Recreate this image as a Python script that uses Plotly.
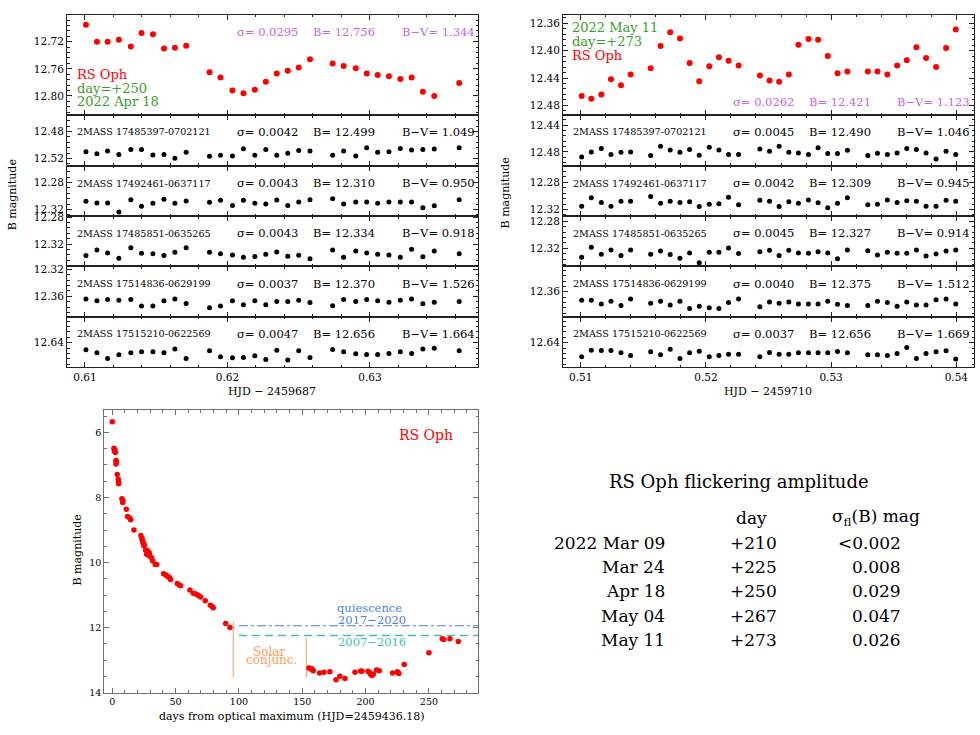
import plotly.graph_objects as go

W, H = 980, 735
SERIF = "DejaVu Serif"

# ---- 2022 Apr 18 light curves, HJD - 2459687 ----
hjd_apr18 = [0.61007, 0.61084, 0.61159, 0.61238, 0.61322, 0.61397, 0.61477, 0.61554,
             0.61631, 0.61710, 0.61874, 0.61951, 0.62035, 0.62112, 0.62192, 0.62269,
             0.62346, 0.62423, 0.62500, 0.62579, 0.62738, 0.62815, 0.62900, 0.62977,
             0.63054, 0.63133, 0.63213, 0.63292, 0.63371, 0.63451, 0.63626]
rsoph_apr18 = [12.695, 12.720, 12.720, 12.717, 12.727, 12.707, 12.709, 12.730, 12.729,
               12.726, 12.765, 12.773, 12.792, 12.796, 12.791, 12.779, 12.767, 12.763,
               12.758, 12.746, 12.752, 12.756, 12.759, 12.767, 12.769, 12.771, 12.775,
               12.773, 12.794, 12.800, 12.781]
comp1_apr18 = [12.5099, 12.5128, 12.5089, 12.5142, 12.5065, 12.5065, 12.5147, 12.5142,
               12.5195, 12.5108, 12.5166, 12.5152, 12.5161, 12.5055, 12.5152, 12.5065,
               12.5152, 12.5123, 12.5080, 12.5089, 12.5152, 12.5089, 12.5161, 12.5041,
               12.5108, 12.5099, 12.5051, 12.5075, 12.5065, 12.5060, 12.5041]
comp2_apr18 = [12.3078, 12.3102, 12.3102, 12.3239, 12.3054, 12.3151, 12.3107, 12.3049,
               12.3107, 12.3073, 12.3093, 12.3063, 12.3141, 12.3063, 12.3107, 12.3117,
               12.3059, 12.3141, 12.3088, 12.3054, 12.3039, 12.3117, 12.3088, 12.3088,
               12.3107, 12.3088, 12.3088, 12.3088, 12.3176, 12.3146, 12.3054]
comp3_apr18 = [12.3371, 12.3288, 12.3332, 12.3410, 12.3254, 12.3337, 12.3346, 12.3371,
               12.3322, 12.3254, 12.3322, 12.3346, 12.3361, 12.3395, 12.3385, 12.3351,
               12.3317, 12.3380, 12.3366, 12.3420, 12.3288, 12.3395, 12.3302, 12.3332,
               12.3351, 12.3361, 12.3395, 12.3278, 12.3390, 12.3302, 12.3346]
comp4_apr18 = [12.3639, 12.3668, 12.3649, 12.3659, 12.3649, 12.3746, 12.3746, 12.3668,
               12.3639, 12.3707, 12.3771, 12.3746, 12.3668, 12.3727, 12.3668, 12.3727,
               12.3678, 12.3678, 12.3659, 12.3693, 12.3741, 12.3649, 12.3678, 12.3649,
               12.3668, 12.3688, 12.3659, 12.3639, 12.3712, 12.3688, 12.3678]
comp5_apr18 = [12.6507, 12.6551, 12.6634, 12.6580, 12.6551, 12.6537, 12.6537, 12.6551,
               12.6493, 12.6634, 12.6522, 12.6610, 12.6624, 12.6620, 12.6595, 12.6649,
               12.6512, 12.6659, 12.6522, 12.6620, 12.6502, 12.6537, 12.6566, 12.6576,
               12.6576, 12.6561, 12.6537, 12.6561, 12.6493, 12.6483, 12.6522]

# ---- 2022 May 11 light curves, HJD - 2459710 ----
hjd_may11 = [0.51008, 0.51085, 0.51165, 0.51242, 0.51322, 0.51399, 0.51559, 0.51638,
             0.51715, 0.51793, 0.51870, 0.51947, 0.52027, 0.52104, 0.52181, 0.52261,
             0.52431, 0.52508, 0.52585, 0.52662, 0.52739, 0.52819, 0.52896, 0.52973,
             0.53051, 0.53130, 0.53293, 0.53370, 0.53449, 0.53527, 0.53604, 0.53681,
             0.53758, 0.53838, 0.53918, 0.53995]
rsoph_may11 = [12.4664, 12.4703, 12.4640, 12.4418, 12.4505, 12.4350, 12.4258, 12.3934,
               12.3735, 12.3823, 12.4181, 12.4447, 12.4229, 12.4098, 12.4147, 12.4219,
               12.4364, 12.4437, 12.4456, 12.4350, 12.3914, 12.3832, 12.3842, 12.4079,
               12.4331, 12.4306, 12.4306, 12.4306, 12.4350, 12.4219, 12.4142, 12.3953,
               12.4108, 12.4239, 12.3963, 12.3692]
comp1_may11 = [12.4878, 12.4800, 12.4751, 12.4839, 12.4805, 12.4800, 12.4854, 12.4717,
               12.4771, 12.4805, 12.4766, 12.4849, 12.4732, 12.4771, 12.4839, 12.4839,
               12.4756, 12.4790, 12.4717, 12.4805, 12.4815, 12.4839, 12.4737, 12.4824,
               12.4824, 12.4776, 12.4854, 12.4820, 12.4839, 12.4815, 12.4751, 12.4766,
               12.4815, 12.4907, 12.4790, 12.4839]
comp2_may11 = [12.3151, 12.3029, 12.3098, 12.3151, 12.3078, 12.3078, 12.3010, 12.3107,
               12.3078, 12.3098, 12.3088, 12.3156, 12.3122, 12.3117, 12.3020, 12.3132,
               12.3063, 12.3078, 12.3156, 12.3088, 12.3107, 12.3059, 12.3102, 12.3176,
               12.3107, 12.3029, 12.3132, 12.3122, 12.3059, 12.3098, 12.3073, 12.3078,
               12.3151, 12.3151, 12.3063, 12.3078]
comp3_may11 = [12.3332, 12.3185, 12.3288, 12.3224, 12.3307, 12.3224, 12.3288, 12.3239,
               12.3293, 12.3346, 12.3268, 12.3415, 12.3259, 12.3259, 12.3195, 12.3278,
               12.3249, 12.3229, 12.3307, 12.3229, 12.3268, 12.3273, 12.3249, 12.3268,
               12.3356, 12.3224, 12.3234, 12.3298, 12.3259, 12.3273, 12.3273, 12.3224,
               12.3312, 12.3283, 12.3239, 12.3224]
comp4_may11 = [12.3727, 12.3727, 12.3780, 12.3741, 12.3805, 12.3707, 12.3771, 12.3741,
               12.3795, 12.3741, 12.3849, 12.3815, 12.3839, 12.3849, 12.3761, 12.3707,
               12.3824, 12.3751, 12.3771, 12.3751, 12.3780, 12.3780, 12.3780, 12.3741,
               12.3785, 12.3805, 12.3805, 12.3741, 12.3761, 12.3815, 12.3751, 12.3795,
               12.3795, 12.3717, 12.3707, 12.3780]
comp5_may11 = [12.6610, 12.6512, 12.6517, 12.6517, 12.6551, 12.6590, 12.6537, 12.6580,
               12.6498, 12.6634, 12.6551, 12.6527, 12.6610, 12.6590, 12.6571, 12.6571,
               12.6610, 12.6546, 12.6571, 12.6571, 12.6551, 12.6551, 12.6551, 12.6551,
               12.6532, 12.6551, 12.6580, 12.6580, 12.6590, 12.6561, 12.6473, 12.6634,
               12.6561, 12.6537, 12.6522, 12.6644]

# comparison stars: name, sigma, B, B-V
comp_names = ["2MASS 17485397-0702121", "2MASS 17492461-0637117", "2MASS 17485851-0635265",
              "2MASS 17514836-0629199", "2MASS 17515210-0622569"]
comp_sigma_apr18 = ["0.0042", "0.0043", "0.0043", "0.0037", "0.0047"]
comp_b_apr18 = ["12.499", "12.310", "12.334", "12.370", "12.656"]
comp_bv_apr18 = ["1.049", "0.950", "0.918", "1.526", "1.664"]
comp_sigma_may11 = ["0.0045", "0.0042", "0.0045", "0.0040", "0.0037"]
comp_b_may11 = ["12.490", "12.309", "12.327", "12.375", "12.656"]
comp_bv_may11 = ["1.046", "0.945", "0.914", "1.512", "1.669"]

# ---- outburst light curve ----
days_lc = [0.0, 1.3, 1.6, 2.1, 2.4, 2.9, 2.9, 3.2, 3.9, 4.7, 5.0, 5.0, 7.6, 8.2, 8.4, 11.1,
           12.1, 13.7, 14.5, 17.1, 22.6, 23.4, 23.7, 24.2, 24.5, 25.0, 25.3, 26.3, 27.1,
           27.6, 28.2, 28.4, 29.2, 29.7, 31.1, 31.8, 33.9, 35.0, 40.5, 42.4, 43.4, 45.0,
           46.1, 51.3, 52.9, 53.9, 61.3, 63.9, 65.3, 67.1, 68.4, 69.7, 73.4, 77.4, 78.9,
           79.7, 89.5, 92.9, 155.3, 156.6, 157.6, 158.7, 163.7, 167.1, 171.8, 176.6, 179.7,
           183.7, 191.6, 196.1, 197.1, 201.8, 202.9, 203.9, 204.7, 205.0, 206.1, 208.7,
           210.8, 221.3, 225.0, 225.5, 226.3, 230.5, 250.0, 260.5, 261.8, 266.6, 273.2]
bmag_lc = [5.67, 6.49, 6.57, 6.53, 6.62, 6.86, 6.97, 6.91, 7.29, 7.44, 7.52, 7.58, 8.04,
           8.15, 8.10, 8.36, 8.58, 8.63, 8.68, 9.00, 9.17, 9.25, 9.31, 9.37, 9.43, 9.48,
           9.45, 9.61, 9.74, 9.63, 9.67, 9.77, 9.70, 9.80, 9.86, 9.94, 10.06, 10.06, 10.34,
           10.38, 10.42, 10.46, 10.52, 10.64, 10.69, 10.71, 10.84, 10.94, 10.96, 10.99,
           11.02, 11.06, 11.17, 11.31, 11.35, 11.39, 11.87, 11.99, 13.24, 13.27, 13.26,
           13.32, 13.39, 13.37, 13.35, 13.60, 13.49, 13.56, 13.37, 13.33, 13.34, 13.34,
           13.37, 13.43, 13.43, 13.47, 13.42, 13.30, 13.32, 13.39, 13.35, 13.38, 13.41,
           13.13, 12.77, 12.34, 12.36, 12.34, 12.42]
quiescence_start = 100
quiescence_1720 = 11.94
quiescence_0716 = 12.24
conj_days = [95.5, 153.2]
conj_top = [11.81, 12.31]
conj_bottom = 13.53

# ---- flickering table ----
table_dates = ["2022 Mar 09", "Mar 24", "Apr 18", "May 04", "May 11"]
table_days = ["+210", "+225", "+250", "+267", "+273"]
table_sigma = ["&lt;0.002", "0.008", "0.029", "0.047", "0.026"]

RED = "#ff0000"
VIOLET = "#c266dd"
GREEN = "#3a9e2a"
BLUE = "#4a7fd8"
TEAL = "#3cc0b0"
ORANGE = "#ff9c5a"

fig = go.Figure()
layout = dict(
    width=W, height=H, margin=dict(l=0, r=0, t=0, b=0),
    paper_bgcolor="white", plot_bgcolor="white", showlegend=False,
    font=dict(family=SERIF, size=11, color="black"),
)
notes = []


def px2x(px):
    return px / W


def px2y(py):
    return 1 - py / H


def axis(domain, rng, dtick, minor, anchor, labels, color="#222", tsize=10.5, fmt=None):
    d = dict(
        domain=domain, range=rng, anchor=anchor, tick0=0, dtick=dtick,
        ticks="inside", ticklen=5, tickwidth=1, tickcolor=color,
        minor=dict(tick0=0, dtick=minor, ticks="inside", ticklen=2.5, tickwidth=1, tickcolor=color),
        showline=True, linecolor=color, linewidth=1, mirror="allticks",
        showgrid=False, zeroline=False, showticklabels=labels,
        tickfont=dict(family=SERIF, size=tsize, color="black"),
    )
    if fmt:
        d["tickformat"] = fmt
    return d


def note(text, px, py, size=11.5, color="black", xanchor="left", angle=0):
    notes.append(dict(
        text=text, x=px2x(px), y=px2y(py), xref="paper", yref="paper",
        xanchor=xanchor, yanchor="middle", showarrow=False, textangle=angle,
        font=dict(family=SERIF, size=size, color=color),
    ))


ROWS_PX = [10, 112, 163, 214, 265, 316, 367]
ROW_TEXT_Y = [128.3, 180.7, 231.3, 282.7, 333.3]


def add_column(first, xpx, xrange, hjd, series, yranges):
    for i, (ys, yr) in enumerate(zip(series, yranges)):
        k = first + i
        xa = "xaxis" if k == 1 else f"xaxis{k}"
        ya = "yaxis" if k == 1 else f"yaxis{k}"
        xr = "x" if k == 1 else f"x{k}"
        yr_ = "y" if k == 1 else f"y{k}"
        ydom = [px2y(ROWS_PX[i + 1]), px2y(ROWS_PX[i])]
        layout[xa] = axis([px2x(xpx[0]), px2x(xpx[1])], xrange, 0.01, 0.002, yr_, i == 5)
        layout[ya] = axis(ydom, list(yr), 0.04, 0.008, xr, True, fmt=".2f")
        fig.add_trace(go.Scatter(
            x=hjd, y=ys, mode="markers", xaxis=xr, yaxis=yr_,
            marker=dict(color=RED if i == 0 else "black", size=6 if i == 0 else 5),
        ))


add_column(1, (67, 478), [0.60874, 0.63758], hjd_apr18,
           [rsoph_apr18, comp1_apr18, comp2_apr18, comp3_apr18, comp4_apr18, comp5_apr18],
           [(12.8289, 12.6803), (12.5308, 12.4561), (12.3298, 12.2551),
            (12.3532, 12.2785), (12.3903, 12.3156), (12.6762, 12.6015)])
add_column(7, (563, 974), [0.50859, 0.54141], hjd_may11,
           [rsoph_may11, comp1_may11, comp2_may11, comp3_may11, comp4_may11, comp5_may11],
           [(12.4946, 12.348), (12.5009, 12.4253), (12.3298, 12.2555),
            (12.3468, 12.2721), (12.397, 12.3223), (12.6762, 12.6015)])

# text in the upper panels
note("σ= 0.0295", 235, 27.3, color=VIOLET)
note("B= 12.756", 311, 27.3, color=VIOLET)
note("B−V= 1.344", 399.5, 27.3, color=VIOLET)
note("RS Oph", 75, 70.7, 13, RED)
note("day=+250", 75, 84.5, 13, GREEN)
note("2022 Apr 18", 75, 98.3, 13, GREEN)

note("2022 May 11", 570, 23.3, 13, GREEN)
note("day=+273", 570, 37.3, 13, GREEN)
note("RS Oph", 570, 51.7, 13, RED)
note("σ= 0.0262", 730.7, 98.3, color=VIOLET)
note("B= 12.421", 806.7, 98.3, color=VIOLET)
note("B−V= 1.123", 895, 98.3, color=VIOLET)

for j, name in enumerate(comp_names):
    y = ROW_TEXT_Y[j]
    note(name, 75, y, 9.6)
    note("σ= " + comp_sigma_apr18[j], 235, y)
    note("B= " + comp_b_apr18[j], 311, y)
    note("B−V= " + comp_bv_apr18[j], 399.5, y)
    note(name, 571, y, 9.6)
    note("σ= " + comp_sigma_may11[j], 730.7, y)
    note("B= " + comp_b_may11[j], 806.7, y)
    note("B−V= " + comp_bv_may11[j], 895, y)

note("B magnitude", 12, 193, 11, xanchor="center", angle=-90)
note("B magnitude", 505, 190, 11, xanchor="center", angle=-90)
note("HJD − 2459687", 272, 391.7, 11, xanchor="center")
note("HJD − 2459710", 768, 391.7, 11, xanchor="center")

# ---- bottom light-curve panel ----
GRAY = "#707070"
layout["xaxis13"] = axis([px2x(104.3), px2x(478.3)], [-6.3, 289], 50, 10, "y13", True,
                         color=GRAY, tsize=9.5)
layout["yaxis13"] = axis([px2y(697.3), px2y(410.7)], [14, 5.315], 2, 0.5, "x13", True,
                         color=GRAY, tsize=9.5)
fig.add_trace(go.Scatter(
    x=[quiescence_start, 289], y=[quiescence_1720] * 2, mode="lines", xaxis="x13", yaxis="y13",
    line=dict(color=BLUE, width=1, dash="dashdot"),
))
fig.add_trace(go.Scatter(
    x=[quiescence_start, 289], y=[quiescence_0716] * 2, mode="lines", xaxis="x13", yaxis="y13",
    line=dict(color=TEAL, width=1.3, dash="8px,5px"),
))
for d, top in zip(conj_days, conj_top):
    fig.add_trace(go.Scatter(
        x=[d, d], y=[top, conj_bottom], mode="lines", xaxis="x13", yaxis="y13",
        line=dict(color=ORANGE, width=1),
    ))
fig.add_trace(go.Scatter(
    x=days_lc, y=bmag_lc, mode="markers", xaxis="x13", yaxis="y13",
    marker=dict(color=RED, size=5.5),
))


def dnote(text, x, y, size, color):
    notes.append(dict(
        text=text, x=x, y=y, xref="x13", yref="y13", showarrow=False,
        xanchor="center", yanchor="middle", font=dict(family=SERIF, size=size, color=color),
    ))


dnote("RS Oph", 248, 6.07, 14, RED)
dnote("quiescence", 203.4, 11.39, 11.5, BLUE)
dnote("2017−2020", 205, 11.77, 11.5, BLUE)
dnote("2007−2016", 205, 12.45, 11.5, TEAL)
dnote("Solar", 123.7, 12.75, 12, ORANGE)
dnote("conjunc.", 125.8, 13.0, 12, ORANGE)

note("B magnitude", 77, 553, 11, xanchor="center", angle=-90)
note("days from optical maximum (HJD=2459436.18)", 291, 721.7, 11, xanchor="center")

# ---- flickering amplitude table ----
note("RS Oph flickering amplitude", 739, 483, 18, xanchor="center")
note("day", 751, 520, 17, xanchor="center")
note("σ<sub>fl</sub>(B) mag", 876, 520, 17, xanchor="center")
for j, yrow in enumerate([545, 570, 594, 619, 644]):
    note(table_dates[j], 667, yrow, 17, xanchor="right")
    note(table_days[j], 753, yrow, 17, xanchor="center")
    note(table_sigma[j], 903, yrow, 17, xanchor="right")

layout["annotations"] = notes
fig.update_layout(**layout)
fig.update_traces(hoverinfo="skip")
# the page's default 8px body margin would push the 980x735 figure off the window
fig.write_html("out.html", config={"displayModeBar": False},
               post_script="document.body.style.margin='0';")
